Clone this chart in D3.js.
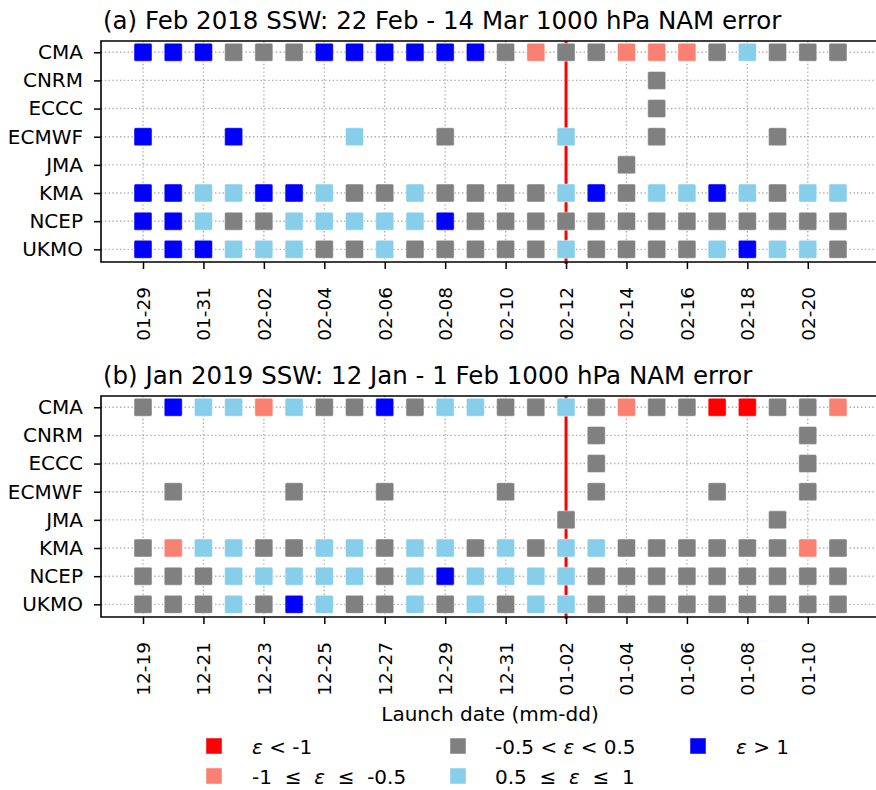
<!DOCTYPE html>
<html>
<head>
<meta charset="utf-8">
<script src="https://cdn.jsdelivr.net/npm/d3@7"></script>
<style>
  body { margin: 0; background: #fff; }
  text { font-family: "DejaVu Sans", sans-serif; fill: #000; }
</style>
</head>
<body>
<div id="chart"></div>
<script>
// models on the y axis (top to bottom)
var models = ["CMA", "CNRM", "ECCC", "ECMWF", "JMA", "KMA", "NCEP", "UKMO"];

// first launch date of each case (24 daily launches)
var startA = "2018-01-29", startB = "2018-12-19";
var nDays = 24;

// error category per launch date, one string per model
// r: e < -1, s: -1..-0.5, g: -0.5..0.5, c: 0.5..1, b: e > 1, ".": no forecast
var errA = [
  "bbbgggbbbbbb" + "gsggsssgcggg",
  "............" + ".....g......",
  "............" + ".....g......",
  "b..b...c..g." + "..c..g...g..",
  "............" + "....g.......",
  "bbccbbcggcgg" + "ggcbgccbcgcc",
  "bbcggcccccbg" + "gggggggggggg",
  "bbbcccggcggg" + "ggcggggcbccg"
];
var errB = [
  "gbccscggbgcc" + "ggcgsggrrggs",
  "............" + "...g......g.",
  "............" + "...g......g.",
  ".g...g..g..." + "g..g...g..g.",
  "............" + "..g......g..",
  "gsccggccgccg" + "cgccggggggsg",
  "gggcccccgcbc" + "cccggggggggg",
  "gggcgbcggcgc" + "gccggggggggg"
];

var titles = [
  "(a) Feb 2018 SSW: 22 Feb - 14 Mar 1000 hPa NAM error",
  "(b) Jan 2019 SSW: 12 Jan - 1 Feb 1000 hPa NAM error"
];
// SSW onset date marked by the red line
var onsets = ["2018-02-12", "2019-01-02"];

var colors = { r: "#ff0000", s: "#fa8072", g: "#808080", c: "#87ceeb", b: "#0000ff" };

var legendItems = [
  { k: "r", parts: [["ε", 1], [" < -1", 0]] },
  { k: "s", parts: [["-1  ≤  ", 0], ["ε", 1], ["  ≤  -0.5", 0]] },
  { k: "g", parts: [["-0.5 < ", 0], ["ε", 1], [" < 0.5", 0]] },
  { k: "c", parts: [["0.5  ≤  ", 0], ["ε", 1], ["  ≤  1", 0]] },
  { k: "b", parts: [["ε", 1], [" > 1", 0]] }
];

var width = 876, height = 790;
var fs = "20px";
var svg = d3.select("#chart").append("svg")
    .attr("width", width)
    .attr("height", height);

var parse = d3.timeParse("%Y-%m-%d");
var fmt = d3.timeFormat("%m-%d");

var panels = [
  { start: startA, err: errA, top: 41, bottom: 262, titleY: 29 },
  { start: startB, err: errB, top: 396, bottom: 617, titleY: 384 }
];

panels.forEach(function(p, pi) {
    var d0 = parse(p.start);
    var dates = d3.range(nDays).map(i => d3.timeDay.offset(d0, i));
    var pad = 1.39 * 864e5;

    var x = d3.scaleTime()
        .domain([new Date(+dates[0] - pad), new Date(+dates[nDays - 1] + pad)])
        .range([101, 880]);
    var y = d3.scaleLinear()
        .domain([-0.4, 7.45])
        .range([p.top, p.bottom]);

    var tickDates = dates.filter((d, i) => i % 2 == 0);
    var g = svg.append("g");

    // grid
    g.selectAll(".hgrid").data(models).enter().append("line")
        .attr("x1", 101).attr("x2", 880)
        .attr("y1", (d, i) => y(i)).attr("y2", (d, i) => y(i))
        .attr("stroke", "#b0b0b0").attr("stroke-width", 1.4)
        .attr("stroke-dasharray", "1.4,2.4");
    g.selectAll(".vgrid").data(tickDates).enter().append("line")
        .attr("x1", d => x(d)).attr("x2", d => x(d))
        .attr("y1", p.top).attr("y2", p.bottom)
        .attr("stroke", "#b0b0b0").attr("stroke-width", 1.4)
        .attr("stroke-dasharray", "1.4,2.4");

    // onset line
    var on = parse(onsets[pi]);
    g.append("line")
        .attr("x1", x(on)).attr("x2", x(on))
        .attr("y1", p.top).attr("y2", p.bottom + 2)
        .attr("stroke", "#ff0000").attr("stroke-width", 3);

    // squares
    var cells = [];
    p.err.forEach(function(s, mi) {
        s.split("").forEach(function(c, di) {
            if (colors[c]) cells.push({ m: mi, d: dates[di], c: c });
        });
    });
    var sq = 18;
    g.selectAll(".cell").data(cells).enter().append("rect")
        .attr("x", d => x(d.d) - sq / 2)
        .attr("y", d => y(d.m) - sq / 2)
        .attr("width", sq).attr("height", sq)
        .attr("rx", 1.5)
        .attr("fill", d => colors[d.c])
        .attr("stroke", "#fff").attr("stroke-opacity", 0.45).attr("stroke-width", 1);

    // axes
    var xAxis = d3.axisBottom(x).tickValues(tickDates).tickFormat(fmt)
        .tickSize(7).tickPadding(4);
    var gx = g.append("g").attr("transform", `translate(0, ${p.bottom})`).call(xAxis);
    gx.select(".domain").remove();
    gx.selectAll("line").attr("stroke", "#000").attr("stroke-width", 1.5);
    gx.selectAll("text")
        .style("font-size", "18.5px")
        .attr("text-anchor", "end")
        .attr("transform", "rotate(-90)")
        .attr("x", -25).attr("y", 0).attr("dy", "0.35em");

    var yAxis = d3.axisLeft(d3.scalePoint().domain(models).range([y(0), y(7)]))
        .tickSize(7).tickPadding(11);
    var gy = g.append("g").attr("transform", "translate(101, 0)").call(yAxis);
    gy.select(".domain").remove();
    gy.selectAll("line").attr("stroke", "#000").attr("stroke-width", 1.5);
    gy.selectAll("text").style("font-size", fs);

    // spines
    g.append("path")
        .attr("d", `M880,${p.top}H101V${p.bottom}H880`)
        .attr("fill", "none").attr("stroke", "#000").attr("stroke-width", 1.6);

    svg.append("text")
        .attr("x", 103).attr("y", p.titleY)
        .style("font-size", "24.5px")
        .text(titles[pi]);
});

svg.append("text")
    .attr("x", 490).attr("y", 721)
    .attr("text-anchor", "middle")
    .style("font-size", fs)
    .text("Launch date (mm-dd)");

// legend
var legPos = [[214, 746], [214, 776], [458, 746], [458, 776], [698, 746]];
var textX = [252, 252, 495, 495, 736];
var lg = svg.append("g");
legendItems.forEach(function(it, i) {
    lg.append("rect")
        .attr("x", legPos[i][0] - 8).attr("y", legPos[i][1] - 8)
        .attr("width", 16).attr("height", 16)
        .attr("fill", colors[it.k])
        .attr("stroke", "#fff").attr("stroke-opacity", 0.45);
    var t = lg.append("text")
        .attr("x", textX[i]).attr("y", legPos[i][1] + 7.5)
        .style("font-size", fs)
        .style("white-space", "pre");
    it.parts.forEach(function(pt) {
        t.append("tspan").text(pt[0]).style("font-style", pt[1] ? "italic" : "normal");
    });
});
</script>
</body>
</html>
